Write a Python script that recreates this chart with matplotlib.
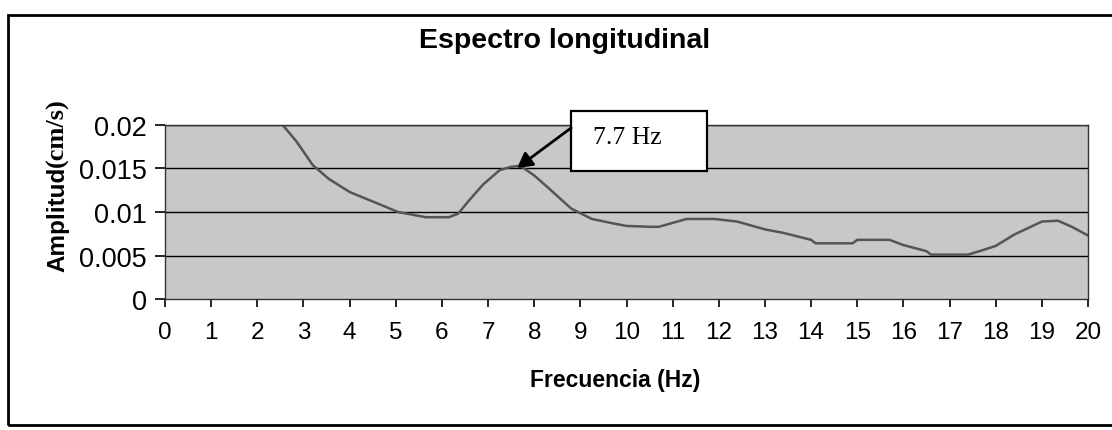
import matplotlib
matplotlib.use("Agg")
import matplotlib.pyplot as plt
from matplotlib.patches import Rectangle

freq = [2.55, 2.85, 3.2, 3.55, 4.0, 4.55, 5.05, 5.65, 6.15, 6.35, 6.6, 6.9, 7.25, 7.5, 7.7,
        8.0, 8.3, 8.8, 9.25, 9.7, 10.0, 10.5, 10.7, 10.9, 11.3, 11.9, 12.4, 13.0, 13.4, 14.0,
        14.1, 14.9, 15.0, 15.7, 16.0, 16.5, 16.6, 17.4, 17.65, 18.0, 18.4, 19.0, 19.35, 19.65, 20.0]
amp = [0.0200, 0.0181, 0.0154, 0.0138, 0.0123, 0.0111, 0.0100, 0.0094, 0.0094, 0.0098, 0.0114,
       0.0132, 0.0148, 0.0152, 0.0153, 0.0142, 0.0128, 0.0104, 0.0092, 0.0087, 0.0084, 0.0083,
       0.0083, 0.0086, 0.0092, 0.0092, 0.0089, 0.0080, 0.0076, 0.0068, 0.0064, 0.0064, 0.0068,
       0.0068, 0.0062, 0.0055, 0.0051, 0.0051, 0.0055, 0.0061, 0.0074, 0.0089, 0.0090, 0.0083,
       0.0073]
xticks = list(range(0, 21))
yticks = [0, 0.005, 0.01, 0.015, 0.02]
ytick_labels = ["0", "0.005", "0.01", "0.015", "0.02"]
title = "Espectro longitudinal"
xlabel = "Frecuencia (Hz)"
peak_label = "7.7 Hz"
peak_x, peak_y = 7.63, 0.01506

fig = plt.figure(figsize=(11.12, 4.31), dpi=100)
ax = fig.add_axes([0.1484, 0.3039, 0.830, 0.4038])
ax.set_facecolor("#c8c8c8")
ax.plot(freq, amp, color="#555555", lw=1.8, solid_joinstyle="round")
ax.set_xlim(0, 20)
ax.set_ylim(0, 0.02)
ax.set_xticks(xticks)
ax.set_xticklabels([str(t) for t in xticks])
ax.set_yticks(yticks)
ax.set_yticklabels(ytick_labels)
for yv in yticks[1:]:
    ax.axhline(yv, color="black", lw=1.0, zorder=1)
for s in ax.spines.values():
    s.set_color("#333333")
    s.set_linewidth(1.0)
ax.tick_params(axis="x", direction="out", length=6, width=1.2, pad=10,
               labelsize=17.5, colors="black")
ax.tick_params(axis="y", direction="out", length=7, width=1.2, pad=6,
               labelsize=19.5, colors="black")
for lab in ax.get_xticklabels() + ax.get_yticklabels():
    lab.set_family("Liberation Sans")

fig.text(0.508, 0.905, title, ha="center", va="center", fontsize=20.5,
         fontweight="bold", family="Liberation Sans")
fig.text(0.553, 0.118, xlabel, ha="center", va="center", fontsize=16.5,
         fontweight="bold", family="Liberation Sans")

# y label: sans bold part + serif bold part, placed end to end
t1 = fig.text(0.052, 1 - 272 / 431, "Amplitud", rotation=90, ha="center", va="bottom",
              fontsize=17.5, fontweight="bold", family="Liberation Sans")
fig.canvas.draw()
bb = t1.get_window_extent()
top_frac = bb.y1 / fig.bbox.height
fig.text(0.052, top_frac, "(cm/s)", rotation=90, ha="center", va="bottom",
         fontsize=19, fontweight="bold", family="Liberation Serif")

# annotation box
box = Rectangle((8.80, 0.01471), 2.95, 0.0216 - 0.01471, facecolor="white",
                edgecolor="black", lw=1.6, clip_on=False, zorder=5)
ax.add_patch(box)
ax.text(10.01, 0.0186, peak_label, ha="center", va="center", fontsize=18.5,
        family="Liberation Serif", zorder=6, clip_on=False)
ax.annotate("", xy=(peak_x, peak_y), xytext=(8.80, 0.01966),
            arrowprops=dict(arrowstyle="-|>,head_length=0.9,head_width=0.5",
                            color="black", lw=2.0, shrinkA=0, shrinkB=0),
            zorder=7, annotation_clip=False)

# outer frame
frame = Rectangle((8 / 1112, 5 / 431), 1.2, 1 - 16 / 431 - 5 / 431,
                  transform=fig.transFigure, fill=False, edgecolor="black",
                  lw=2.0, clip_on=False)
fig.patches.append(frame)

fig.savefig("out.png", dpi=100, facecolor="white")
